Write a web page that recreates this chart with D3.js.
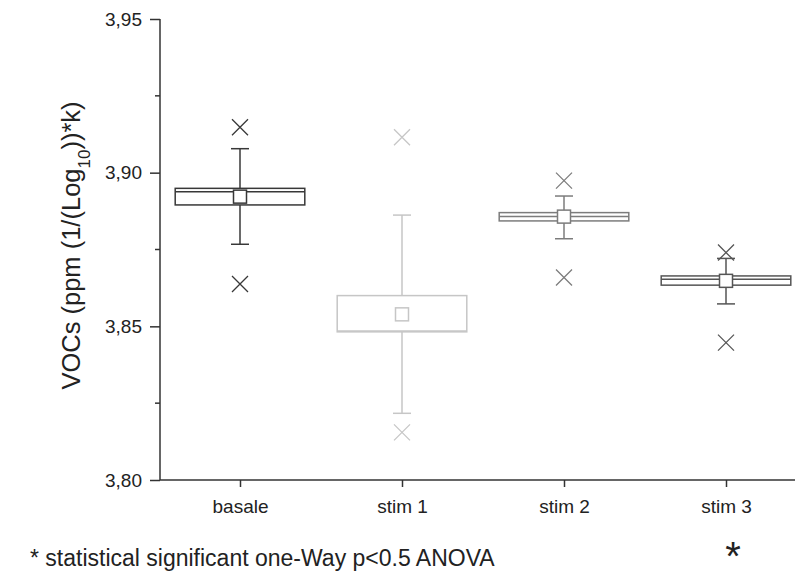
<!DOCTYPE html>
<html>
<head>
<meta charset="utf-8">
<script src="https://cdn.jsdelivr.net/npm/d3@7"></script>
<style>
  body { margin: 0; background: #fff; }
  text { font-family: "Liberation Sans", Arial, sans-serif; fill: #222; }
</style>
</head>
<body>
<div id="chart"></div>
<script>
// Box statistics (VOCs per condition)
const categories = ["basale", "stim 1", "stim 2", "stim 3"];
const maxVals = [3.9148, 3.9115, 3.8974, 3.8740];
const whiskerHigh = [3.9078, 3.8862, 3.8924, 3.8721];
const q3 = [3.8949, 3.8600, 3.8870, 3.8664];
const medians = [3.8938, 3.8485, 3.8857, 3.8653];
const q1 = [3.8895, 3.8482, 3.8843, 3.8634];
const whiskerLow = [3.8767, 3.8217, 3.8785, 3.8573];
const minVals = [3.8638, 3.8155, 3.8659, 3.8447];
const means = [3.8922, 3.8539, 3.8857, 3.8648];
const yTicks = [3.80, 3.85, 3.90, 3.95];
const yMinorTicks = [3.825, 3.875, 3.925];

const colors = ["#383838", "#c6c6c6", "#7c7c7c", "#555555"];

const data = categories.map((c, i) => ({
    cat: c, max: maxVals[i], wHi: whiskerHigh[i], q3: q3[i], med: medians[i],
    q1: q1[i], wLo: whiskerLow[i], min: minVals[i], mean: means[i], color: colors[i]
}));

const W = 795, H = 578;
const svg = d3.select("#chart")
    .append("svg")
    .attr("width", W)
    .attr("height", H);

const axisX = 160;
const xScale = d3.scalePoint().domain(categories).range([240, 726]);
const yScale = d3.scaleLinear().domain([3.80, 3.95]).range([480, 19]);
const boxW = xScale.step() * 0.8;
const capW = 18;
const mark = 8;
const sq = 13;

// Y axis
const yAxis = d3.axisLeft(yScale)
    .tickValues(yTicks)
    .tickSize(10)
    .tickPadding(8)
    .tickFormat(d => d3.format(".2f")(d).replace(".", ","));

const gy = svg.append("g")
    .attr("transform", `translate(${axisX},0)`)
    .call(yAxis);
gy.select(".domain").remove();
gy.append("line")
    .attr("y1", yScale.range()[0]).attr("y2", yScale.range()[1])
    .attr("stroke", "#333").attr("stroke-width", 1.5);
gy.selectAll(".tick line").attr("stroke", "#333").attr("stroke-width", 1.5);
gy.selectAll(".tick text").style("font-size", "19px").attr("fill", "#222");

gy.selectAll(".minor")
    .data(yMinorTicks)
    .join("line")
    .attr("class", "minor")
    .attr("x1", -5).attr("x2", 0)
    .attr("y1", d => yScale(d)).attr("y2", d => yScale(d))
    .attr("stroke", "#333").attr("stroke-width", 1.5);

// X axis
const xAxis = d3.axisBottom(xScale).tickSize(7).tickPadding(13);
const gx = svg.append("g")
    .attr("transform", `translate(0,${yScale(3.80)})`)
    .call(xAxis);
gx.select(".domain").remove();
gx.append("line")
    .attr("x1", axisX).attr("x2", W)
    .attr("stroke", "#333").attr("stroke-width", 1.5);
gx.selectAll(".tick line").attr("stroke", "#333").attr("stroke-width", 1.5);
gx.selectAll(".tick text").style("font-size", "19px").attr("fill", "#222");

// Y axis title
const title = svg.append("text")
    .attr("transform", `translate(80,${(yScale(3.80) + yScale(3.95)) / 2 - 4}) rotate(-90)`)
    .attr("text-anchor", "middle")
    .style("font-size", "25.5px");
title.append("tspan").text("VOCs (ppm (1/(Log");
title.append("tspan").attr("baseline-shift", "sub").style("font-size", "17px").text("10");
title.append("tspan").text("))*k)");

// Boxes
const g = svg.append("g");
const box = g.selectAll(".box")
    .data(data)
    .join("g")
    .attr("class", "box")
    .attr("stroke", d => d.color)
    .attr("stroke-width", 1.5)
    .attr("fill", "none");

box.append("line")
    .attr("x1", d => xScale(d.cat)).attr("x2", d => xScale(d.cat))
    .attr("y1", d => yScale(d.wHi)).attr("y2", d => yScale(d.q3));
box.append("line")
    .attr("x1", d => xScale(d.cat)).attr("x2", d => xScale(d.cat))
    .attr("y1", d => yScale(d.q1)).attr("y2", d => yScale(d.wLo));
box.append("line")
    .attr("x1", d => xScale(d.cat) - capW / 2).attr("x2", d => xScale(d.cat) + capW / 2)
    .attr("y1", d => yScale(d.wHi)).attr("y2", d => yScale(d.wHi));
box.append("line")
    .attr("x1", d => xScale(d.cat) - capW / 2).attr("x2", d => xScale(d.cat) + capW / 2)
    .attr("y1", d => yScale(d.wLo)).attr("y2", d => yScale(d.wLo));

box.append("rect")
    .attr("x", d => xScale(d.cat) - boxW / 2)
    .attr("width", boxW)
    .attr("y", d => yScale(d.q3))
    .attr("height", d => yScale(d.q1) - yScale(d.q3))
    .attr("fill", "#fff");
box.append("line")
    .attr("x1", d => xScale(d.cat) - boxW / 2).attr("x2", d => xScale(d.cat) + boxW / 2)
    .attr("y1", d => yScale(d.med)).attr("y2", d => yScale(d.med));

box.append("rect")
    .attr("x", d => xScale(d.cat) - sq / 2)
    .attr("y", d => yScale(d.mean) - sq / 2)
    .attr("width", sq).attr("height", sq)
    .attr("fill", "#fff");

// min / max crosses
const crossPath = (cx, cy) =>
    `M${cx - mark},${cy - mark}L${cx + mark},${cy + mark}M${cx - mark},${cy + mark}L${cx + mark},${cy - mark}`;
box.append("path")
    .attr("stroke-width", 1.3)
    .attr("d", d => crossPath(xScale(d.cat), yScale(d.max)));
box.append("path")
    .attr("stroke-width", 1.3)
    .attr("d", d => crossPath(xScale(d.cat), yScale(d.min)));

// Footnote
svg.append("text")
    .attr("x", 30).attr("y", 566)
    .style("font-size", "23px")
    .text("* statistical significant one-Way p<0.5 ANOVA");
svg.append("text")
    .attr("x", xScale("stim 3") + 7).attr("y", 570)
    .attr("text-anchor", "middle")
    .style("font-size", "40px")
    .attr("fill", "#000")
    .text("*");
</script>
</body>
</html>
